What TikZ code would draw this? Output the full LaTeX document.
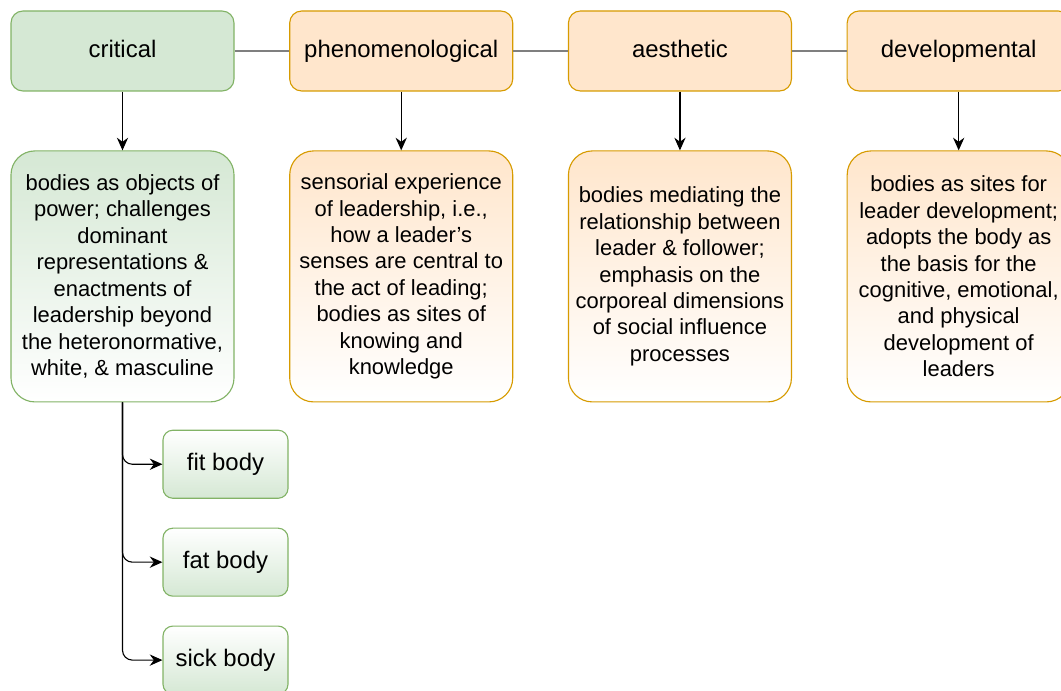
\documentclass[tikz,border=0pt]{standalone}
\usepackage{fontspec}
\setmainfont{Liberation Sans}
\usetikzlibrary{arrows.meta, positioning}
\definecolor{greenfill}{HTML}{D5E8D4}
\definecolor{greenline}{HTML}{82B366}
\definecolor{orangefill}{HTML}{FFE6CC}
\definecolor{orangeline}{HTML}{D79B00}
\definecolor{linkgray}{HTML}{7F7F7F}

\begin{document}
\begin{tikzpicture}[
    head/.style={draw=#1line, fill=#1fill, rounded corners=8.5pt, line width=0.8pt,
        minimum width=5.575cm, minimum height=2cm, text height=12.5pt, text depth=3.5pt,
        font=\fontsize{17}{20}\selectfont},
    desc/.style={draw=#1line, top color=#1fill, bottom color=white, rounded corners=17pt,
        line width=0.8pt, minimum width=5.575cm, minimum height=6.275cm, inner sep=1pt,
        align=center, font=\fontsize{15.6}{18.8}\selectfont},
    leaf/.style={draw=greenline, top color=white, bottom color=greenfill, rounded corners=7pt,
        line width=0.8pt, minimum width=3.125cm, minimum height=1.7cm,
        text height=12.5pt, text depth=3.5pt, font=\fontsize{17}{20}\selectfont},
    link/.style={draw=linkgray, line width=1.4pt},
    down/.style={-{Stealth[length=9pt,width=8pt]}, line width=0.8pt}
]
\useasboundingbox (0,0) rectangle (26.525,-17.275);

% perspectives
\node[head=green] (crit) at (3.0625,-1.275) {critical};
\node[head=orange, right=1.365cm of crit] (phen) {phenomenological};
\node[head=orange, right=1.365cm of phen] (aest) {aesthetic};
\node[head=orange, right=1.365cm of aest] (dev) {developmental};

\draw[link] (crit) -- (phen);
\draw[link] (phen) -- (aest);
\draw[link] (aest) -- (dev);

% descriptions
\node[desc=green, below=1.47cm of crit] (critd) {bodies as objects of\\power; challenges\\dominant\\representations \&\\enactments of\\leadership beyond\\the heteronormative,\\white, \& masculine};
\node[desc=orange, below=1.47cm of phen] (phend) {sensorial experience\\of leadership, i.e.,\\how a leader’s\\senses are central to\\the act of leading;\\bodies as sites of\\knowing and\\knowledge};
\node[desc=orange, below=1.47cm of aest] (aestd) {bodies mediating the\\relationship between\\leader \& follower;\\emphasis on the\\corporeal dimensions\\of social influence\\processes};
\node[desc=orange, below=1.47cm of dev] (devd) {bodies as sites for\\leader development;\\adopts the body as\\the basis for the\\cognitive, emotional,\\and physical\\development of\\leaders};

\draw[down] (crit) -- (critd);
\draw[down] (phen) -- (phend);
\draw[down] (aest) -- (aestd);
\draw[down] (dev) -- (devd);

% kinds of body
\node[leaf, below right=0.68cm and 3.8cm of critd.south west] (fit) {fit body};
\node[leaf, below=0.72cm of fit] (fat) {fat body};
\node[leaf, below=0.72cm of fat] (sick) {sick body};

\draw[down, rounded corners=7pt] (critd.south) |- (fit);
\draw[down, rounded corners=7pt] (critd.south) |- (fat);
\draw[down, rounded corners=7pt] (critd.south) |- (sick);
\end{tikzpicture}
\end{document}
